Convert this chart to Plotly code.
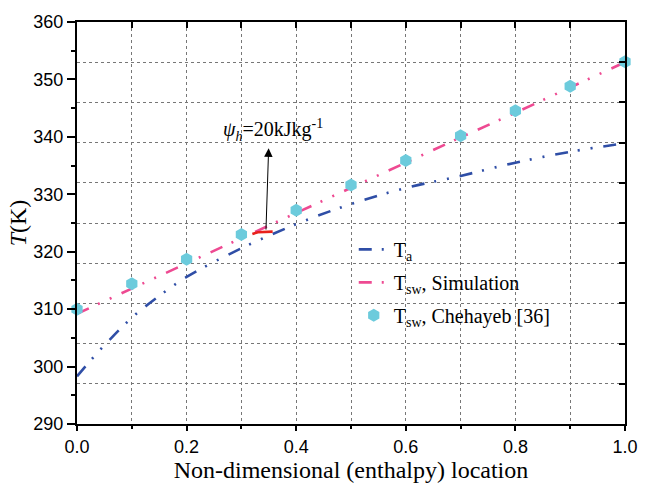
import plotly.graph_objects as go

# Non-dimensional (enthalpy) location along the exchanger
loc = [0.0, 0.1, 0.2, 0.3, 0.4, 0.5, 0.6, 0.7, 0.8, 0.9, 1.0]

# Air temperature T_a (K)
ta_loc = [0.0, 0.025, 0.05, 0.1, 0.15, 0.2, 0.3, 0.4, 0.5, 0.6, 0.7, 0.8, 0.9, 1.0]
ta = [298.3, 301.1, 303.7, 308.5, 312.3, 315.6, 320.6, 324.8, 328.3, 331.1, 333.2, 335.5, 337.4, 338.9]

# Seawater temperature, simulation (K)
tsw_sim = [309.2, 313.6, 318.0, 322.3, 326.7, 331.1, 335.5, 339.9, 344.2, 348.6, 353.0]

# Seawater temperature, Chehayeb [36] (K)
tsw_ref = [310.0, 314.4, 318.7, 323.0, 327.2, 331.6, 335.9, 340.2, 344.55, 348.8, 353.1]

# Pinch segment highlighted in red
pinch_loc = [0.32, 0.33, 0.357]
pinch_t = [323.1, 323.4, 323.5]

# Right-hand axis ticks (drawn as the horizontal grid)
right_ticks = [297, 304, 311, 318, 325, 332, 339, 346, 353]
top_ticks = [0.1, 0.2, 0.3, 0.4, 0.5, 0.6, 0.7, 0.8, 0.9]

SERIF = "Liberation Serif"
SANS = "Liberation Sans"
BLUE = "#2f4ea6"
PINK = "#ee4a92"
CYAN = "#6ccbdc"
RED = "#e8211c"

fig = go.Figure()

# helper trace so the top/right axes exist
fig.add_trace(go.Scatter(x=[0, 1], y=[290, 360], xaxis="x2", yaxis="y2",
                         mode="markers", marker=dict(opacity=0),
                         showlegend=False, hoverinfo="skip"))

fig.add_trace(go.Scatter(
    x=ta_loc, y=ta, mode="lines", name="T<sub>a</sub>",
    line=dict(color=BLUE, width=2.6, dash="13px,10px,2px,11px,2px,11px", shape="spline"),
    legendgroup="a"))

fig.add_trace(go.Scatter(
    x=loc, y=tsw_sim, mode="lines", name="T<sub>sw</sub>, Simulation",
    line=dict(color=PINK, width=2.6, dash="13px,10px,2px,11px,2px,11px"),
    legendgroup="b"))

fig.add_trace(go.Scatter(
    x=loc, y=tsw_ref, mode="markers", name="T<sub>sw</sub>, Chehayeb [36]",
    marker=dict(symbol="hexagon", size=13, color=CYAN, line=dict(width=0)),
    cliponaxis=False, legendgroup="c"))

fig.add_trace(go.Scatter(
    x=pinch_loc, y=pinch_t, mode="lines", showlegend=False,
    line=dict(color=RED, width=2.6), hoverinfo="skip"))

# arrow from the pinch segment up to the label
fig.add_annotation(x=0.3497, y=338.0, ax=0.3448, ay=323.6,
                   xref="x", yref="y", axref="x", ayref="y",
                   text="", showarrow=True, arrowhead=2, arrowsize=1.7,
                   arrowwidth=1, arrowcolor="black")
fig.add_annotation(x=0.357, y=341.2, xref="x", yref="y",
                   text="<i>ψ<sub>h</sub></i>=20kJkg<sup>-1</sup>",
                   showarrow=False, font=dict(family=SERIF, size=20, color="black"),
                   xanchor="center", yanchor="middle")

fig.update_layout(
    width=650, height=489,
    margin=dict(l=77, r=13, t=16, b=64),
    paper_bgcolor="white", plot_bgcolor="white",
    showlegend=True,
    legend=dict(x=0.505, y=0.483, xanchor="left", yanchor="top",
                bgcolor="rgba(0,0,0,0)", borderwidth=0,
                font=dict(family=SERIF, size=20, color="black"),
                tracegroupgap=4, traceorder="grouped"),
    xaxis=dict(range=[0, 1], showgrid=False, zeroline=False,
               tickvals=[0.0, 0.2, 0.4, 0.6, 0.8, 1.0],
               ticktext=["0.0", "0.2", "0.4", "0.6", "0.8", "1.0"],
               ticks="outside", ticklen=5, tickwidth=1.5, tickcolor="black",
               minor=dict(tickvals=[0.1, 0.3, 0.5, 0.7, 0.9], ticks="outside",
                          ticklen=3, tickwidth=1.5, tickcolor="black", showgrid=False),
               showline=True, linecolor="black", linewidth=2,
               tickfont=dict(family=SANS, size=18, color="black"),
               title=dict(text="Non-dimensional (enthalpy) location",
                          font=dict(family=SERIF, size=24, color="black"), standoff=4)),
    yaxis=dict(range=[290, 360], showgrid=False, zeroline=False,
               tickvals=[290, 300, 310, 320, 330, 340, 350, 360],
               ticks="outside", ticklen=8, tickwidth=1.5, tickcolor="black",
               minor=dict(tickvals=[295, 305, 315, 325, 335, 345, 355], ticks="outside",
                          ticklen=4, tickwidth=1.5, tickcolor="black", showgrid=False),
               showline=True, linecolor="black", linewidth=2,
               tickfont=dict(family=SANS, size=18, color="black"),
               title=dict(text="<i>T</i>(K)",
                          font=dict(family=SERIF, size=24, color="black"), standoff=0)),
    xaxis2=dict(range=[0, 1], overlaying="x", side="top", anchor="y2",
                tickvals=top_ticks, ticks="inside", ticklen=6, tickwidth=1.5,
                tickcolor="black", showticklabels=False, zeroline=False,
                showgrid=True, gridcolor="#777777", gridwidth=1, griddash="dot",
                showline=True, linecolor="black", linewidth=2),
    yaxis2=dict(range=[290, 360], overlaying="y", side="right", anchor="x2",
                tickvals=right_ticks, ticks="inside", ticklen=6, tickwidth=1.5,
                tickcolor="black", showticklabels=False, zeroline=False,
                showgrid=True, gridcolor="#777777", gridwidth=1, griddash="dot",
                showline=True, linecolor="black", linewidth=2),
)

fig.write_html("out.html")
